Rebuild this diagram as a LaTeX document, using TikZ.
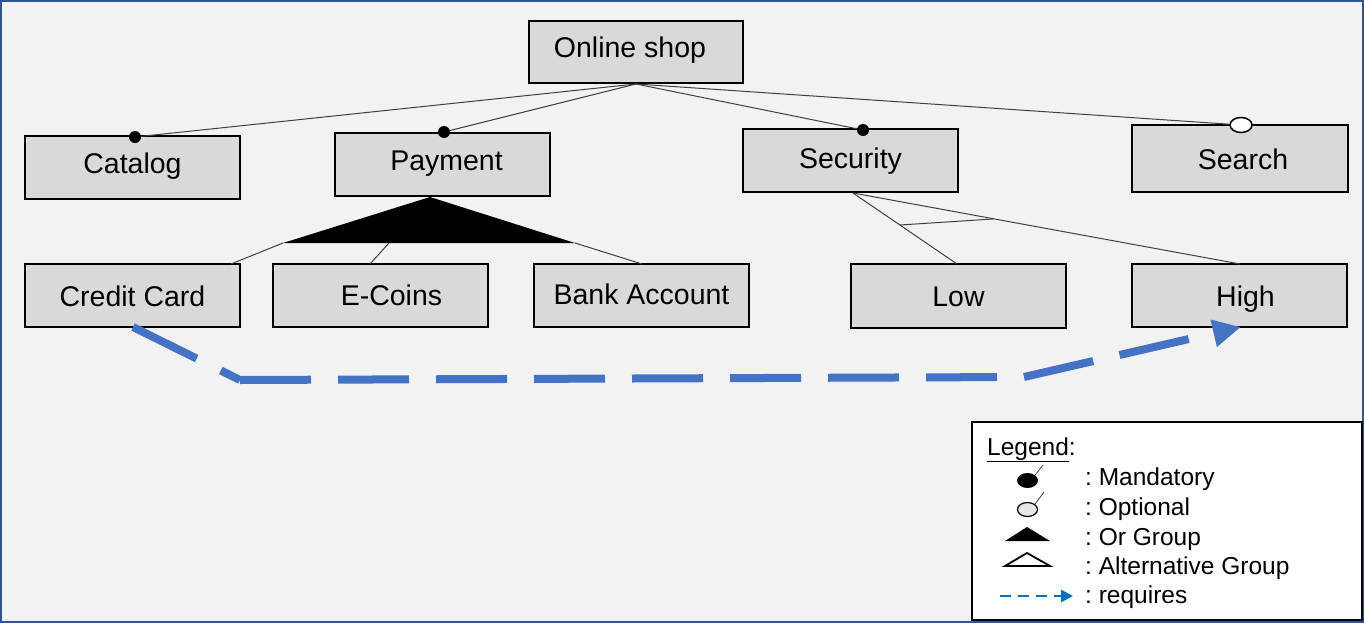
\documentclass[tikz,border=0pt]{standalone}
\usepackage{fontspec}
\setmainfont{Liberation Sans}
\usetikzlibrary{arrows.meta,shapes.geometric}
\definecolor{bggray}{HTML}{F2F2F2}
\definecolor{boxgray}{HTML}{D9D9D9}
\definecolor{frameblue}{HTML}{2F5597}
\definecolor{reqblue}{HTML}{4472C4}
\definecolor{legblue}{HTML}{0070C0}
\definecolor{optgray}{HTML}{E7E7E7}
\newcommand{\boxfont}{\fontsize{28.5}{34}\selectfont}
\newcommand{\legfont}{\fontsize{24.5}{29}\selectfont}
\frenchspacing
\begin{document}
\begin{tikzpicture}[x=1pt,y=-1pt,
  fbox/.style={draw=black, line width=2, fill=boxgray, minimum width=215, minimum height=63, inner sep=0, font=\boxfont, text depth=6, text height=#1},
  fbox/.default=24,
  conn/.style={draw=black!75, line width=1},
  mand/.style={circle, fill=black, minimum size=12, inner sep=0},
  opt/.style={ellipse, draw=black, line width=1.5, fill=white, minimum width=22, minimum height=15, inner sep=0},
  reqline/.style={draw=reqblue, line width=8, dash pattern=on 71 off 27},
  legtext/.style={anchor=base west, font=\legfont, inner sep=0},
]
\useasboundingbox (0,0) rectangle (1364,624);
\draw[fill=bggray, draw=frameblue, line width=2] (1,1) rectangle (1363,622);

% feature boxes
\node[fbox=16, minimum width=214, minimum height=62] (os) at (636,52) {Online shop\hspace*{12pt}};
\node[fbox=17] (cat) at (132.5,167.5) {Catalog};
\node[fbox=17] (pay) at (442.5,164.5) {\hspace*{8pt}Payment};
\node[fbox=21] (sec) at (850.5,160.5) {Security};
\node[fbox=28, minimum width=216, minimum height=67] (sea) at (1240,158.5) {\hspace*{6pt}Search};
\node[fbox=28] (cc) at (132.5,295) {Credit Card};
\node[fbox=25] (ec) at (380.5,295.5) {\hspace*{22pt}E-Coins};
\node[fbox=23] (ba) at (641.5,295.5) {Bank Account};
\node[fbox=26, minimum height=64] (low) at (958.5,296) {Low};
\node[fbox=27] (high) at (1239.5,295.5) {\hspace*{12pt}High};

% mandatory / optional markers
\node[mand] (mcat) at (135,137) {};
\node[mand] (mpay) at (444,132) {};
\node[mand] (msec) at (863,130) {};
\node[opt] (osea) at (1241,125) {};

\draw[conn] (os.south) -- (mcat);
\draw[conn] (os.south) -- (mpay);
\draw[conn] (os.south) -- (msec);
\draw[conn] (os.south) -- (osea);

% or group under Payment
\coordinate (ogA) at (430,197);
\coordinate (ogL) at (283,243);
\coordinate (ogR) at (575,243);
\coordinate (ogM) at (389,243);
\coordinate (ccT) at (231,264);
\coordinate (ecT) at (370,264);
\coordinate (baT) at (642,264);
\fill[black] (ogA) -- (ogL) -- (ogR) -- cycle;
\draw[conn] (ogL) -- (ccT);
\draw[conn] (ogM) -- (ecT);
\draw[conn] (ogR) -- (baT);

% alternative group under Security
\coordinate (agA) at (853,193);
\coordinate (lowT) at (957,264);
\coordinate (highT) at (1240,264);
\coordinate (agL) at (900,225);
\coordinate (agR) at (993,219);
\draw[conn] (agA) -- (lowT);
\draw[conn] (agA) -- (highT);
\draw[conn] (agL) -- (agR);

% requires constraint
\coordinate (r1) at (133,327);
\coordinate (r2) at (240,380);
\coordinate (r3) at (1024,377);
\coordinate (r4) at (1241,327);
\draw[reqline] (r1) -- (r2);
\draw[reqline] (r2) -- (r3);
\draw[reqline, -{Triangle[length=28pt,width=26pt]}] (r3) -- (r4);

% legend
\node[draw=black, line width=2, fill=white, minimum width=390, minimum height=198, inner sep=0] (leg) at (1167,521) {};
\node[legtext] (legt) at (987,455) {\underline{Legend}:};
\node[legtext] (lm) at (1085,485.5) {: Mandatory};
\node[legtext] (lo) at (1085,515) {: Optional};
\node[legtext] (lor) at (1085,545) {: Or Group};
\node[legtext] (lalt) at (1085,574) {: Alternative Group};
\node[legtext] (lreq) at (1085,603) {: requires};

\node[ellipse, fill=black, minimum width=21, minimum height=15, inner sep=0] (sm) at (1027.5,480.5) {};
\coordinate (smE) at (1043,465);
\draw[conn, line width=0.8] (sm.north east) -- (smE);
\node[ellipse, draw=black, line width=1.2, fill=optgray, minimum width=20, minimum height=14, inner sep=0] (so) at (1027.5,509.5) {};
\coordinate (soE) at (1044,492);
\draw[conn, line width=0.8] (so.north east) -- (soE);

\coordinate (t1A) at (1027,527);
\coordinate (t1L) at (1005,541);
\coordinate (t1R) at (1050,541);
\fill[black] (t1A) -- (t1L) -- (t1R) -- cycle;
\coordinate (t2A) at (1027,553);
\coordinate (t2L) at (1005,566);
\coordinate (t2R) at (1050,566);
\draw[black, line width=1.8, line join=miter] (t2A) -- (t2L) -- (t2R) -- cycle;

\coordinate (rq1) at (1000,596);
\coordinate (rq2) at (1073,596);
\draw[legblue, line width=2.5, dash pattern=on 11 off 7, -{Triangle[length=12pt,width=12pt]}] (rq1) -- (rq2);
\end{tikzpicture}
\end{document}
